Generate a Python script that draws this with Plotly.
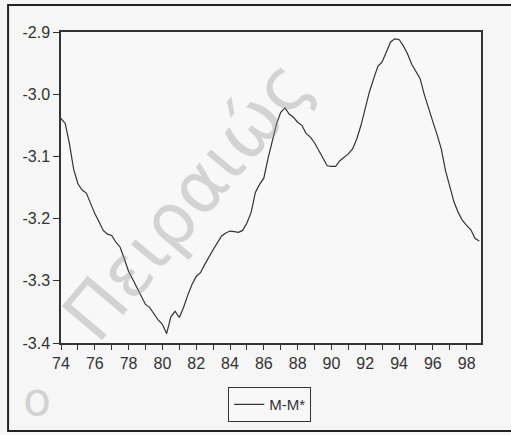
import plotly.graph_objects as go

# Quarterly observations 1974Q1 .. 1998Q4 (x in two-digit years)
start_year = 74
values = [
    -3.039, -3.047, -3.080, -3.121, -3.144, -3.154, -3.159, -3.177, -3.192, -3.205,
    -3.219, -3.225, -3.227, -3.238, -3.246, -3.265, -3.285, -3.298, -3.312, -3.325,
    -3.338, -3.343, -3.354, -3.363, -3.370, -3.385, -3.358, -3.349, -3.359, -3.343,
    -3.323, -3.306, -3.293, -3.287, -3.274, -3.261, -3.250, -3.239, -3.228, -3.223,
    -3.220, -3.221, -3.222, -3.219, -3.207, -3.190, -3.158, -3.145, -3.135, -3.103,
    -3.075, -3.048, -3.029, -3.022, -3.032, -3.037, -3.045, -3.050, -3.063, -3.069,
    -3.078, -3.091, -3.104, -3.115, -3.116, -3.116, -3.107, -3.101, -3.096, -3.088,
    -3.072, -3.050, -3.023, -2.996, -2.975, -2.955, -2.948, -2.931, -2.916, -2.911,
    -2.912, -2.922, -2.935, -2.952, -2.964, -2.975, -3.001, -3.024, -3.044, -3.065,
    -3.088, -3.123, -3.150, -3.173, -3.190, -3.203, -3.211, -3.218, -3.232, -3.236,
]
x_values = [start_year + i / 4 for i in range(len(values))]

x_tickvals = list(range(74, 99))
x_ticktext = [str(v) if v % 2 == 0 else "" for v in x_tickvals]
y_tickvals = [-3.4, -3.3, -3.2, -3.1, -3.0, -2.9]
y_ticktext = ["-3.4", "-3.3", "-3.2", "-3.1", "-3.0", "-2.9"]
series_name = "M-M*"

FONT = "Liberation Sans, Arial, sans-serif"
INK = "#333333"
WM = "rgba(150,150,150,0.38)"

fig = go.Figure()
fig.add_trace(go.Scatter(
    x=x_values, y=values, mode="lines", name=series_name,
    line=dict(color=INK, width=1.2),
))

fig.update_layout(
    width=511, height=435,
    margin=dict(l=61, r=30, t=32, b=92),
    paper_bgcolor="#f6f6f6", plot_bgcolor="#f8f8f8",
    font=dict(family=FONT, size=16, color=INK),
    showlegend=True,
    legend=dict(
        x=0.497, y=-0.142, xanchor="center", yanchor="top",
        orientation="h", bordercolor=INK, borderwidth=1,
        bgcolor="#f8f8f8", font=dict(size=15, color=INK),
        itemwidth=30,
    ),
    xaxis=dict(
        range=[74, 98.85], tickvals=x_tickvals, ticktext=x_ticktext,
        showgrid=False, zeroline=False, showline=True, linecolor=INK,
        linewidth=1.5, mirror=True, ticks="outside", ticklen=5,
        tickcolor=INK, tickwidth=1, tickfont=dict(size=16, color=INK),
    ),
    yaxis=dict(
        range=[-3.4, -2.9], tickvals=y_tickvals, ticktext=y_ticktext,
        showgrid=False, zeroline=False, showline=True, linecolor=INK,
        linewidth=1.5, mirror=True, ticks="outside", ticklen=6,
        tickcolor=INK, tickwidth=1, tickfont=dict(size=16, color=INK),
    ),
)

# outer frame (right edge falls outside the picture)
fig.add_shape(type="rect", xref="paper", yref="paper",
              x0=-0.126, x1=1.2, y0=-0.283, y1=1.087,
              line=dict(color="#222222", width=2), layer="below")

# watermark
fig.add_annotation(text="Πειραιώς", xref="paper", yref="paper",
                   x=0.30, y=0.46, xanchor="center", yanchor="middle",
                   showarrow=False, textangle=-50,
                   font=dict(size=72, family="DejaVu Sans, sans-serif", color=WM))
fig.add_annotation(text="ο", xref="paper", yref="paper",
                   x=-0.058, y=-0.18, xanchor="center", yanchor="middle",
                   showarrow=False,
                   font=dict(size=46, family="DejaVu Sans, sans-serif", color=WM))

fig.write_html("out.html")
